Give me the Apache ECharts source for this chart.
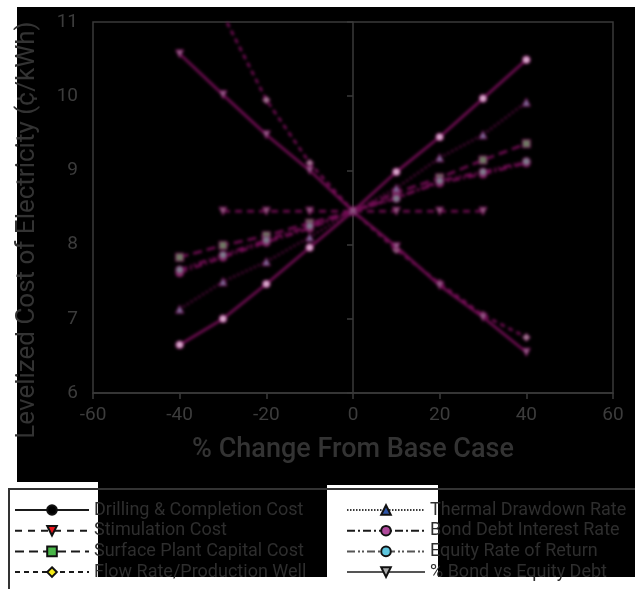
<!DOCTYPE html>
<html>
<head>
<meta charset="utf-8">
<script src="https://cdn.jsdelivr.net/npm/echarts@6/dist/echarts.min.js"></script>
<style>
  html, body { margin: 0; padding: 0; background: #fff; }
  #wrap { position: relative; width: 635px; height: 589px; }
  #base, #marks { position: absolute; left: 0; top: 0; width: 635px; height: 589px; }
  #marks { filter: blur(1.8px); pointer-events: none; }
</style>
</head>
<body>
<div id="wrap">
  <div id="base"></div>
  <div id="marks"></div>
</div>
<script>
// Sensitivity of levelized cost to each input, % change from the base case
const pctChange = [-40, -30, -20, -10, 0, 10, 20, 30, 40];

const drillingCost   = [6.65, 7.00, 7.47, 7.96, 8.45, 8.98, 9.45, 9.97, 10.49];
const stimulationCost = [null, 8.45, 8.45, 8.45, 8.45, 8.45, 8.45, 8.45, null];
const surfacePlantCost = [7.83, 7.99, 8.12, 8.29, 8.45, 8.70, 8.90, 9.14, 9.36];
const flowRatePerWell = [null, 11.10, 9.95, 9.10, 8.45, 7.93, 7.48, 7.05, 6.75];
const thermalDrawdown = [7.13, 7.50, 7.77, 8.10, 8.45, 8.76, 9.17, 9.48, 9.92];
const bondInterestRate = [7.62, 7.83, 8.03, 8.22, 8.45, 8.64, 8.83, 8.95, 9.10];
const equityReturn    = [7.66, 7.86, 8.06, 8.25, 8.45, 8.62, 8.86, 8.98, 9.12];
const bondVsEquity    = [10.57, 10.02, 9.48, 9.00, 8.45, 7.97, 7.45, 7.02, 6.55];

const seriesNames = [
  'Drilling & Completion Cost', 'Stimulation Cost', 'Surface Plant Capital Cost',
  'Flow Rate/Production Well', 'Thermal Drawdown Rate', 'Bond Debt Interest Rate',
  'Equity Rate of Return', '% Bond vs Equity Debt'
];
const seriesValues = [drillingCost, stimulationCost, surfacePlantCost, flowRatePerWell,
  thermalDrawdown, bondInterestRate, equityReturn, bondVsEquity];

const xTicks = { min: -60, max: 60, interval: 20 };
const yTicks = { min: 6, max: 11, interval: 1 };

const xTitle = '% Change From Base Case';
const yTitle = 'Levelized Cost of Electricity (\u00a2/kWh)';

// legend styling (key swatches)
const keyStyles = [
  { symbol: 'circle',   fill: '#000000', line: '#1a1a1a', type: 'solid' },
  { symbol: 'triangle', rotate: 180, fill: '#e8141c', line: '#1a1a1a', type: [7, 6] },
  { symbol: 'rect',     fill: '#49b649', line: '#1a1a1a', type: [9, 5] },
  { symbol: 'diamond',  fill: '#f5ec1a', line: '#1a1a1a', type: [5, 4] },
  { symbol: 'triangle', fill: '#2f56a8', line: '#3a3a3a', type: [1.5, 1.5] },
  { symbol: 'circle',   fill: '#b04a9c', line: '#1a1a1a', type: [8, 3, 2, 3] },
  { symbol: 'circle',   fill: '#5ec6de', line: '#555555', type: [8, 3, 2, 2, 2, 3] },
  { symbol: 'triangle', rotate: 180, fill: '#a9a9a9', line: '#555555', type: 'solid' }
];

// plotted mark styling
const markLine = '#730d55';
const markFills = ['#d8a8cc', '#8e5f80', '#6f7a64', '#a07a92', '#7a7098', '#923a76', '#7e7c8c', '#925f88'];

const gridBox = { left: 93, right: 22, top: 22, bottom: 196 };
const axisGray = '#3a3a3a';
const textGray = '#3c3c3c';
const fontFam = 'Roboto, "DejaVu Sans", sans-serif';

// ---------- base layer: backdrop, axes, titles, key ----------
const base = echarts.init(document.getElementById('base'), null, { renderer: 'canvas' });
base.setOption({
  backgroundColor: '#ffffff',
  animation: false,
  graphic: [
    { type: 'rect', z: -100, silent: true, shape: { x: 17, y: 7, width: 618, height: 475 }, style: { fill: '#000' } },
    { type: 'rect', z: -100, silent: true, shape: { x: 98, y: 481, width: 229, height: 96 }, style: { fill: '#000' } },
    { type: 'rect', z: -100, silent: true, shape: { x: 326, y: 481, width: 113, height: 4 }, style: { fill: '#000' } },
    { type: 'rect', z: -100, silent: true, shape: { x: 438, y: 481, width: 197, height: 96 }, style: { fill: '#000' } },
    { type: 'polyline', z: -50, silent: true, shape: { points: [[635, 489], [9, 489], [9, 589]] },
      style: { stroke: '#333', lineWidth: 2, fill: null } },
    { type: 'text', z: 10, silent: true, x: 27, y: 230, rotation: Math.PI / 2,
      style: { text: yTitle, fill: '#333', font: '26px ' + fontFam, align: 'center', verticalAlign: 'middle' } }
  ],
  grid: Object.assign({ show: true, borderColor: axisGray, borderWidth: 1.5, backgroundColor: 'transparent' }, gridBox),
  xAxis: {
    type: 'value', min: xTicks.min, max: xTicks.max, interval: xTicks.interval,
    name: xTitle, nameLocation: 'middle', nameGap: 44,
    nameTextStyle: { color: '#333', fontSize: 27, fontWeight: 500, fontFamily: fontFam },
    axisLine: { show: true, lineStyle: { color: axisGray, width: 1.5 } },
    axisTick: { show: true, inside: false, length: 6, lineStyle: { color: axisGray, width: 1.5 } },
    axisLabel: { color: textGray, fontSize: 19, margin: 13, fontFamily: fontFam },
    splitLine: { show: false }
  },
  yAxis: {
    type: 'value', min: yTicks.min, max: yTicks.max, interval: yTicks.interval,
    axisLine: { show: true, lineStyle: { color: axisGray, width: 1.5 } },
    axisTick: { show: true, inside: false, length: 6, lineStyle: { color: axisGray, width: 1.5 } },
    axisLabel: { color: textGray, fontSize: 19, margin: 15, fontFamily: fontFam },
    splitLine: { show: false }
  },
  legend: [
    {
      data: seriesNames.slice(0, 4), orient: 'vertical', left: 14, top: 501, height: 100,
      itemWidth: 74, itemHeight: 12, itemGap: 2.7, padding: 0,
      textStyle: { color: '#2e2e2e', fontSize: 18, lineHeight: 14, fontFamily: fontFam }
    },
    {
      data: seriesNames.slice(4), orient: 'vertical', left: 346, top: 501, height: 100,
      itemWidth: 78, itemHeight: 12, itemGap: 2.7, padding: 0,
      textStyle: { color: '#2e2e2e', fontSize: 18, lineHeight: 14, fontFamily: fontFam }
    }
  ],
  series: seriesNames.map((name, i) => ({
    name, type: 'line', data: [],
    symbol: keyStyles[i].symbol, symbolRotate: keyStyles[i].rotate || 0, symbolSize: 10,
    itemStyle: { color: keyStyles[i].fill, borderColor: '#111', borderWidth: 1 },
    lineStyle: { color: keyStyles[i].line, width: 1.3, type: keyStyles[i].type }
  }))
});

// ---------- marks layer: the sensitivity curves ----------
const marks = echarts.init(document.getElementById('marks'), null, { renderer: 'canvas' });
const markDash = ['solid', [7, 5], [9, 5], [5, 4], [1.5, 3], [8, 3, 2, 3], [8, 3, 2, 2, 2, 3], 'solid'];
marks.setOption({
  backgroundColor: 'transparent',
  animation: false,
  grid: Object.assign({ show: false }, gridBox),
  xAxis: { type: 'value', min: xTicks.min, max: xTicks.max, interval: xTicks.interval, show: false },
  yAxis: { type: 'value', min: yTicks.min, max: yTicks.max, interval: yTicks.interval, show: false },
  series: seriesNames.map((name, i) => ({
    name, type: 'line', clip: true,
    data: pctChange.map((x, k) => [x, seriesValues[i][k]]),
    symbol: keyStyles[i].symbol, symbolRotate: keyStyles[i].rotate || 0, symbolSize: 8,
    itemStyle: { color: markFills[i], borderColor: markLine, borderWidth: 1 },
    lineStyle: { color: markLine, width: 2.6, type: markDash[i] }
  }))
});
</script>
</body>
</html>
